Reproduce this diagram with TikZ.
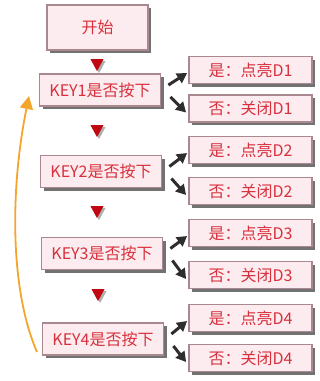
\documentclass[tikz,border=0pt]{standalone}
\usepackage{fontspec}
\setmainfont{Noto Sans CJK SC}
\usetikzlibrary{shapes.geometric,shadows,arrows.meta}
\definecolor{boxfill}{HTML}{FDECEF}
\definecolor{boxline}{HTML}{A98890}
\definecolor{txtred}{HTML}{D8303C}
\definecolor{trired}{HTML}{C00812}
\definecolor{orng}{HTML}{F4A52C}
\definecolor{arrblk}{HTML}{2E2E2E}
\begin{document}
\begin{tikzpicture}[x=1pt,y=-1pt,
  box/.style={draw=boxline,line width=1.8pt,fill=boxfill,text=txtred,
    font=\fontsize{16}{18}\selectfont,inner sep=0pt,minimum height=#1,
    drop shadow={shadow xshift=3pt,shadow yshift=-3pt,fill=black!65,opacity=0.85}},
  box/.default=30pt,
  keybox/.style={box=32pt,minimum width=121pt},
  resbox/.style={box=27pt,minimum width=123pt},
  tri/.style={isosceles triangle,shape border rotate=270,isosceles triangle apex angle=70,
    isosceles triangle stretches,
    fill=trired,inner sep=0pt,minimum width=13pt,minimum height=12pt,
    drop shadow={shadow xshift=2pt,shadow yshift=-2pt,fill=black!45,opacity=0.7}},
  blkarr/.style={draw=arrblk,line width=3pt,-{Triangle[width=11pt,length=10pt]}},
  orarr/.style={draw=orng,line width=1.8pt,-{Triangle[width=13pt,length=13pt]}}
]
\useasboundingbox (0,0) rectangle (320,381);
\node[box=45pt,minimum width=101pt] (start) at (97.5,27.5) {开始};
\node[tri] (t1) at (97,63) {};
\node[keybox] (k1) at (100,90) {KEY1是否按下};
\node[tri] (t2) at (97,129) {};
\node[keybox] (k2) at (101,171.5) {KEY2是否按下};
\node[tri] (t3) at (97,210) {};
\node[keybox] (k3) at (102,253.5) {KEY3是否按下};
\node[tri] (t4) at (98,293) {};
\node[keybox] (k4) at (103,339) {KEY4是否按下};

\node[resbox] (y1) at (250.5,70) {是：点亮D1};
\node[resbox] (n1) at (250.5,108.5) {否：关闭D1};
\node[resbox] (y2) at (250.5,150) {是：点亮D2};
\node[resbox] (n2) at (250.5,191) {否：关闭D2};
\node[resbox] (y3) at (250.5,233) {是：点亮D3};
\node[resbox] (n3) at (250.5,275) {否：关闭D3};
\node[resbox] (y4) at (250.5,318) {是：点亮D4};
\node[resbox] (n4) at (250.5,358) {否：关闭D4};

\foreach \i in {1,2,3,4}{
  \draw[blkarr] ([xshift=7pt,yshift=5pt]k\i.east) -- ([xshift=-1pt,yshift=-3pt]y\i.west);
  \draw[blkarr] ([xshift=9pt,yshift=-7pt]k\i.east) -- ([xshift=-2pt,yshift=-4pt]n\i.west);
}

\coordinate (ostart) at (37,352);
\coordinate (oend) at (29,96);
\draw[orarr] (ostart) .. controls (10,290) and (10,190) .. (oend);
\end{tikzpicture}
\end{document}
